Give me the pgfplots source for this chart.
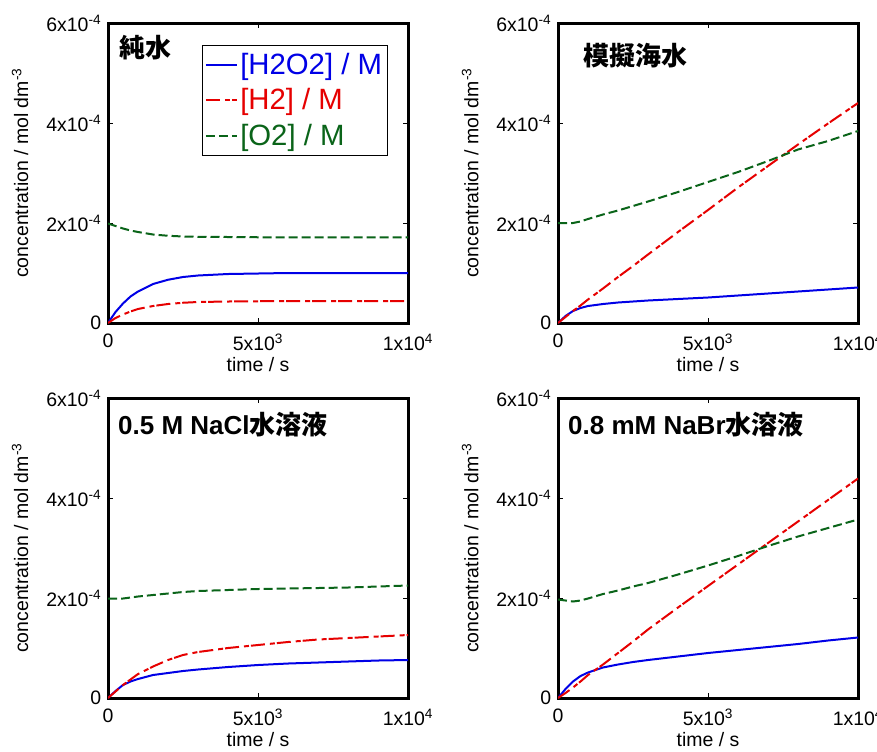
\documentclass[border=0pt]{standalone}
\usepackage{pgfplots}
\usepackage{pgfplotstable}
\pgfplotsset{compat=1.18}
\usepackage{fontspec}
\setmainfont{Liberation Sans}
\newfontfamily\cjk{Noto Sans CJK JP}
\definecolor{myblue}{RGB}{0,0,230}
\definecolor{myred}{RGB}{230,0,0}
\definecolor{mygreen}{RGB}{10,100,25}

\pgfplotstableread{
t h2o2 h2 o2
0 0 0 1.99e-4
250 0.22e-4 0.10e-4 1.94e-4
500 0.39e-4 0.17e-4 1.89e-4
750 0.53e-4 0.23e-4 1.85e-4
1000 0.63e-4 0.28e-4 1.82e-4
1500 0.78e-4 0.34e-4 1.77e-4
2000 0.865e-4 0.38e-4 1.745e-4
2500 0.92e-4 0.405e-4 1.73e-4
3000 0.95e-4 0.42e-4 1.725e-4
4000 0.98e-4 0.43e-4 1.72e-4
5000 0.99e-4 0.435e-4 1.715e-4
6000 1.0e-4 0.44e-4 1.715e-4
7000 1.0e-4 0.44e-4 1.715e-4
8000 1.0e-4 0.44e-4 1.715e-4
9000 1.0e-4 0.44e-4 1.715e-4
10000 1.0e-4 0.44e-4 1.715e-4
}\pure

\pgfplotstableread{
t h2o2 h2 o2
0 0 0 2.0e-4
250 0.14e-4 0.12e-4 2.0e-4
500 0.24e-4 0.24e-4 2.0e-4
750 0.30e-4 0.35e-4 2.03e-4
1000 0.34e-4 0.47e-4 2.08e-4
1500 0.38e-4 0.69e-4 2.17e-4
2000 0.41e-4 0.92e-4 2.25e-4
2500 0.43e-4 1.14e-4 2.34e-4
3000 0.45e-4 1.37e-4 2.43e-4
4000 0.48e-4 1.82e-4 2.62e-4
5000 0.51e-4 2.26e-4 2.82e-4
6000 0.55e-4 2.71e-4 3.02e-4
7000 0.59e-4 3.14e-4 3.24e-4
8000 0.63e-4 3.57e-4 3.47e-4
9000 0.67e-4 3.99e-4 3.64e-4
10000 0.71e-4 4.40e-4 3.84e-4
}\sea

\pgfplotstableread{
t h2o2 h2 o2
0 0 0 1.99e-4
250 0.14e-4 0.13e-4 1.99e-4
500 0.26e-4 0.26e-4 1.99e-4
750 0.33e-4 0.37e-4 2.01e-4
1000 0.38e-4 0.48e-4 2.03e-4
1500 0.46e-4 0.63e-4 2.06e-4
2000 0.50e-4 0.76e-4 2.09e-4
2500 0.54e-4 0.86e-4 2.12e-4
3000 0.57e-4 0.92e-4 2.14e-4
4000 0.62e-4 1.00e-4 2.16e-4
5000 0.66e-4 1.06e-4 2.18e-4
6000 0.69e-4 1.12e-4 2.19e-4
7000 0.71e-4 1.17e-4 2.20e-4
8000 0.73e-4 1.20e-4 2.21e-4
9000 0.75e-4 1.23e-4 2.23e-4
10000 0.76e-4 1.26e-4 2.25e-4
}\nacl

\pgfplotstableread{
t h2o2 h2 o2
0 0 0 1.97e-4
250 0.18e-4 0.10e-4 1.95e-4
500 0.33e-4 0.21e-4 1.93e-4
750 0.44e-4 0.33e-4 1.95e-4
1000 0.51e-4 0.46e-4 1.99e-4
1500 0.61e-4 0.67e-4 2.08e-4
2000 0.67e-4 0.90e-4 2.15e-4
2500 0.72e-4 1.13e-4 2.23e-4
3000 0.76e-4 1.37e-4 2.30e-4
4000 0.83e-4 1.81e-4 2.47e-4
5000 0.90e-4 2.24e-4 2.65e-4
6000 0.96e-4 2.67e-4 2.84e-4
7000 1.02e-4 3.10e-4 3.04e-4
8000 1.08e-4 3.53e-4 3.23e-4
9000 1.15e-4 3.96e-4 3.40e-4
10000 1.21e-4 4.39e-4 3.57e-4
}\nabr

\pgfplotsset{
  panel/.style={
    scale only axis, width=225pt, height=225pt,
    xmin=0, xmax=10000, ymin=0, ymax=6e-4,
    xtick={0,5000,10000},
    xticklabels={0,5x10\textsuperscript{3},1x10\textsuperscript{4}},
    ytick={0,2e-4,4e-4,6e-4},
    yticklabels={0,2x10\textsuperscript{-4},4x10\textsuperscript{-4},6x10\textsuperscript{-4}},
    scaled ticks=false,
    tick align=inside, major tick length=4pt,
    tick style={black, line width=0.6pt},
    axis line style={line width=2.25pt},
    ticklabel style={font=\fontsize{14.6}{16}\selectfont},
    xticklabel style={yshift=-4.5pt},
    yticklabel style={xshift=-1.5pt},
    label style={font=\fontsize{14.6}{16}\selectfont},
    xlabel={time / s},
    ylabel={concentration / mol dm\textsuperscript{-3}},
    xlabel style={at={(axis description cs:0.5,-0.138)}, anchor=center},
    ylabel style={at={(axis description cs:-0.293,0.5)}, anchor=center},
    every axis plot/.append style={line width=1.5pt},
    legend image code/.code={\draw[#1, line width=1.5pt] (0pt,0pt) -- (23pt,0pt);},
  },
  ph2o2/.style={myblue, solid},
  ph2/.style={myred, dash pattern=on 10.5pt off 3.75pt on 3.75pt off 1.5pt},
  po2/.style={mygreen, dash pattern=on 6.75pt off 3pt},
}
\tikzset{ttl/.style={anchor=north west, inner sep=0pt, font=\fontsize{19.5}{20}\selectfont\bfseries}}

\begin{document}
\begin{tikzpicture}
% top-left
\begin{axis}[panel, at={(81pt,-242.25pt)}, anchor=south west,
  legend style={at={(0.933,0.927)}, anchor=north east, draw=black, line width=0.75pt,
    font=\fontsize{22}{24}\selectfont, row sep=5pt, cells={anchor=west},
    inner xsep=2pt, inner ysep=4pt}]
\addplot[ph2o2] table[x=t,y=h2o2]{\pure};
\addlegendentry{\textcolor{myblue}{[H2O2] / M}}
\addplot[ph2] table[x=t,y=h2]{\pure};
\addlegendentry{\textcolor{myred}{[H2] / M}}
\addplot[po2] table[x=t,y=o2]{\pure};
\addlegendentry{\textcolor{mygreen}{[O2] / M}}
\node[ttl] at (rel axis cs:0.037,0.96) {\cjk 純水};
\end{axis}
% top-right
\begin{axis}[panel, at={(418.5pt,-242.25pt)}, anchor=south west]
\addplot[ph2o2] table[x=t,y=h2o2]{\sea};
\addplot[ph2] table[x=t,y=h2]{\sea};
\addplot[po2] table[x=t,y=o2]{\sea};
\node[ttl] at (rel axis cs:0.083,0.933) {\cjk 模擬海水};
\end{axis}
% bottom-left
\begin{axis}[panel, at={(81pt,-523.5pt)}, anchor=south west]
\addplot[ph2o2] table[x=t,y=h2o2]{\nacl};
\addplot[ph2] table[x=t,y=h2]{\nacl};
\addplot[po2] table[x=t,y=o2]{\nacl};
\node[ttl] at (rel axis cs:0.033,0.953) {0.5 M NaCl{\cjk 水溶液}};
\end{axis}
% bottom-right
\begin{axis}[panel, at={(418.5pt,-523.5pt)}, anchor=south west]
\addplot[ph2o2] table[x=t,y=h2o2]{\nabr};
\addplot[ph2] table[x=t,y=h2]{\nabr};
\addplot[po2] table[x=t,y=o2]{\nabr};
\node[ttl] at (rel axis cs:0.033,0.953) {0.8 mM NaBr{\cjk 水溶液}};
\end{axis}
\pgfresetboundingbox
\useasboundingbox (0pt,0pt) rectangle (657.75pt,-563.25pt);
\end{tikzpicture}
\end{document}
